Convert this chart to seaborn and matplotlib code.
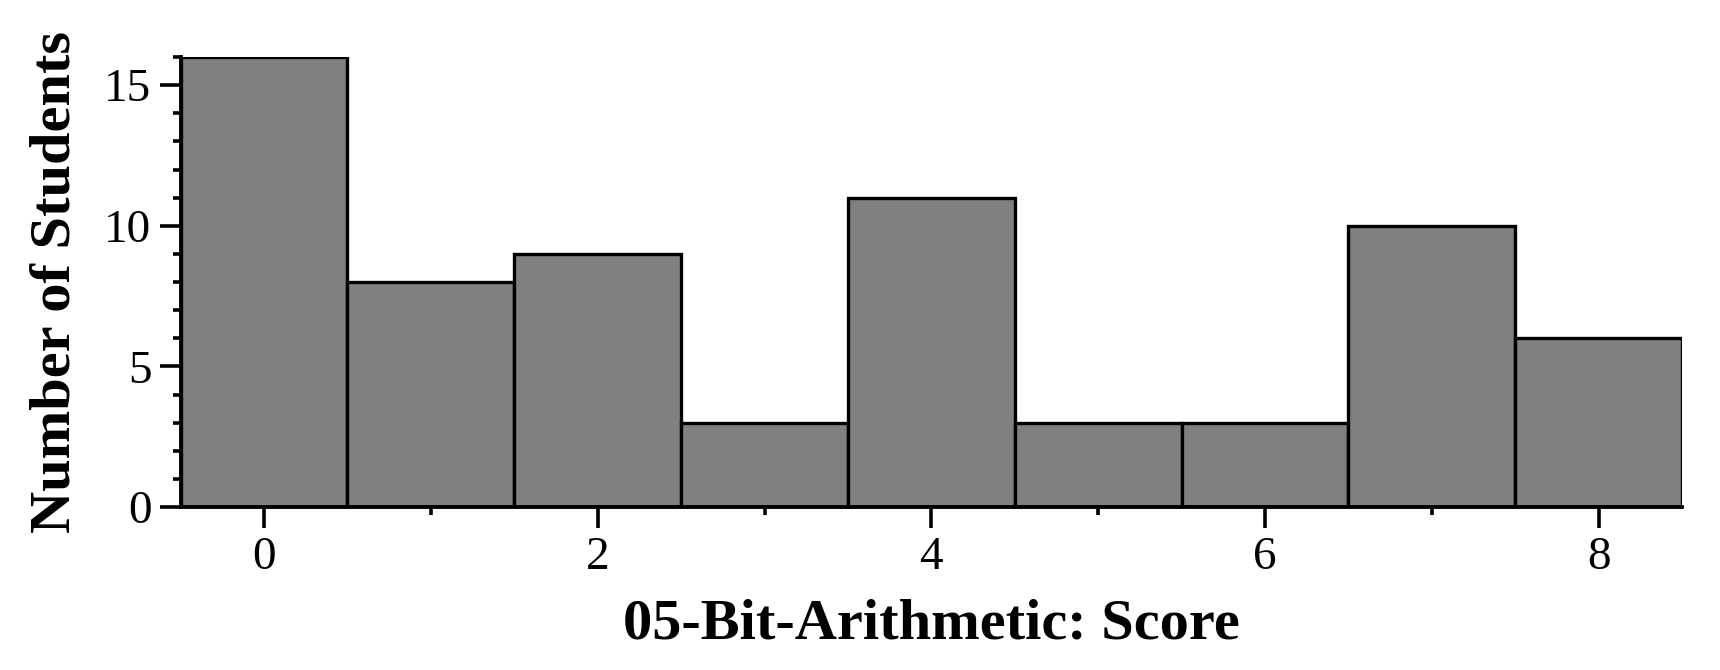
import numpy as np
import pandas as pd
import matplotlib
matplotlib.use("Agg")
import matplotlib.pyplot as plt
import seaborn as sns
from matplotlib.ticker import MultipleLocator

# Data
scores = [0, 1, 2, 3, 4, 5, 6, 7, 8]
counts = [16, 8, 9, 3, 11, 3, 3, 10, 6]

x_label = "05-Bit-Arithmetic: Score"
y_label = "Number of Students"

sns.set_style("ticks")
plt.rcParams["font.family"] = ["Liberation Serif", "DejaVu Serif"]
plt.rcParams["text.color"] = "black"
plt.rcParams["axes.labelcolor"] = "black"
plt.rcParams["xtick.color"] = "black"
plt.rcParams["ytick.color"] = "black"
plt.rcParams["axes.edgecolor"] = "black"

df = pd.DataFrame({"score": scores, "count": counts})

fig = plt.figure(figsize=(17.2, 6.7), dpi=100)
ax = fig.add_axes([0.105, 0.243, 0.873, 0.672])

sns.histplot(
    data=df,
    x="score",
    weights="count",
    discrete=True,
    color="#808080",
    alpha=1.0,
    edgecolor="black",
    linewidth=2.4,
    ax=ax,
)

ax.set_xlim(-0.5, 8.5)
ax.set_ylim(0, 16)
ax.xaxis.set_major_locator(MultipleLocator(2))
ax.xaxis.set_minor_locator(MultipleLocator(1))
ax.yaxis.set_major_locator(MultipleLocator(5))
ax.yaxis.set_minor_locator(MultipleLocator(1))

ax.tick_params(axis="both", which="major", length=15, width=2.6, labelsize=34, pad=6, direction="out")
ax.tick_params(axis="both", which="minor", length=6, width=2.6, direction="out")

for side in ["top", "right"]:
    ax.spines[side].set_visible(False)
for side in ["left", "bottom"]:
    ax.spines[side].set_linewidth(2.8)

ax.set_xlabel(x_label, fontsize=42, fontweight="bold", labelpad=14)
ax.set_ylabel(y_label, fontsize=42, fontweight="bold", labelpad=16)

fig.savefig("out.png", dpi=100)
